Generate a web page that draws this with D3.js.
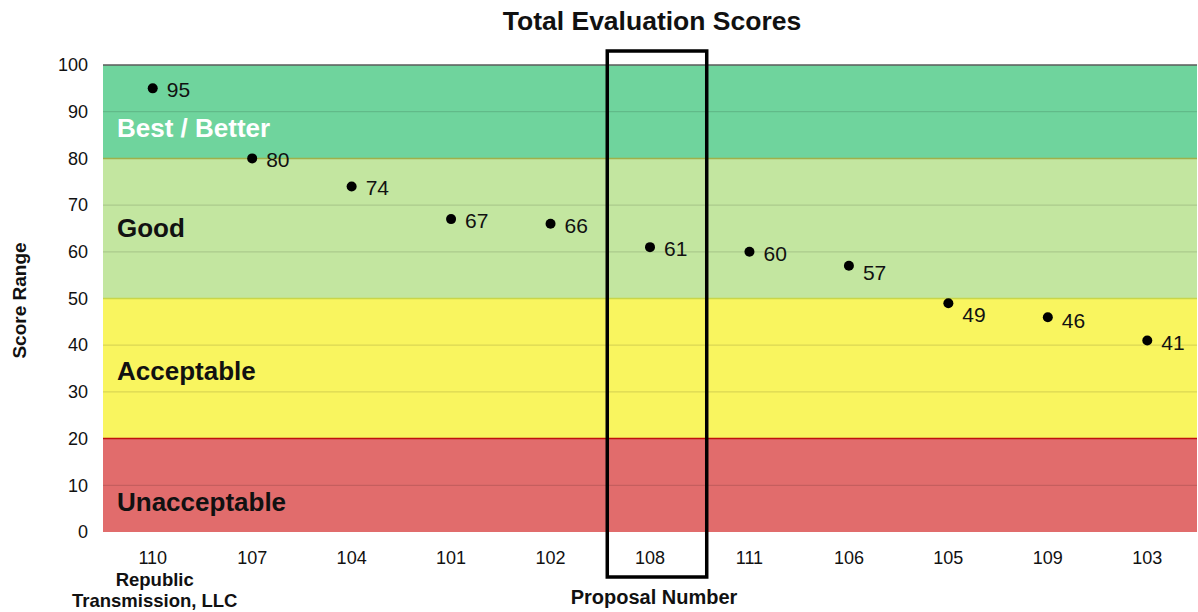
<!DOCTYPE html>
<html>
<head>
<meta charset="utf-8">
<script src="https://cdn.jsdelivr.net/npm/d3@7"></script>
<style>
  html, body { margin: 0; padding: 0; background: #fff; }
  svg { display: block; font-family: "Liberation Sans", Arial, sans-serif; }
</style>
</head>
<body>
<svg id="chart" width="1198" height="612"></svg>
<script>
// Proposal numbers in ranking order and their total scores
const proposals = ["110", "107", "104", "101", "102", "108", "111", "106", "105", "109", "103"];
const scores = [95, 80, 74, 67, 66, 61, 60, 57, 49, 46, 41];

// Score bands
const bandNames = ["Best / Better", "Good", "Acceptable", "Unacceptable"];
const bandLows = [80, 50, 20, 0];
const bandHighs = [100, 80, 50, 20];

const yTicks = [0, 10, 20, 30, 40, 50, 60, 70, 80, 90, 100];
const highlighted = "108";

const bandFill = ["#6fd49d", "#c3e6a0", "#f9f55f", "#e16c6c"];
const bandEdge = ["#5a5a5a", "#9fb04a", "#c8d64a", "#c0100e"];
const bandText = ["#ffffff", "#111111", "#111111", "#111111"];
// score level on which each band's label sits
const bandLabelAt = [86.5, 65, 34.5, 6.5];

const svg = d3.select("#chart");
const margin = { left: 103, right: 1, top: 65, bottom: 80 };
const W = 1198, H = 612;

const x = d3.scaleBand().domain(proposals).range([margin.left, W - margin.right]).padding(0);
const y = d3.scaleLinear().domain([0, 100]).range([H - margin.bottom, margin.top]);

// bands
const bands = bandNames.map((n, i) => ({ name: n, lo: bandLows[i], hi: bandHighs[i], i }));
svg.append("g").selectAll("rect").data(bands).join("rect")
  .attr("x", margin.left)
  .attr("width", W - margin.right - margin.left)
  .attr("y", d => y(d.hi))
  .attr("height", d => y(d.lo) - y(d.hi))
  .attr("fill", d => bandFill[d.i]);

// gridlines
svg.append("g").selectAll("line").data(yTicks.filter(t => t > 0 && t < 100 && !bandLows.includes(t))).join("line")
  .attr("x1", margin.left).attr("x2", W - margin.right)
  .attr("y1", d => y(d)).attr("y2", d => y(d))
  .attr("stroke", "#000").attr("stroke-opacity", 0.12).attr("stroke-width", 1.2);

// band edges
svg.append("g").selectAll("line").data(bands).join("line")
  .attr("x1", margin.left).attr("x2", W - margin.right)
  .attr("y1", d => y(d.hi)).attr("y2", d => y(d.hi))
  .attr("stroke", d => bandEdge[d.i]).attr("stroke-width", 1.5);

// band labels
svg.append("g").selectAll("text").data(bands).join("text")
  .attr("x", margin.left + 14)
  .attr("y", d => y(bandLabelAt[d.i]) + 9)
  .attr("fill", d => bandText[d.i])
  .attr("font-size", 26).attr("font-weight", "bold")
  .text(d => d.name);

// y axis
const yAxis = svg.append("g").attr("transform", `translate(${margin.left - 12},0)`)
  .call(d3.axisLeft(y).tickValues(yTicks).tickSize(0).tickPadding(3));
yAxis.select(".domain").remove();
yAxis.selectAll("text").attr("font-size", 18).attr("fill", "#111")
  .attr("font-family", "Liberation Sans, Arial, sans-serif");

// x axis
const xAxis = svg.append("g").attr("transform", `translate(0,${H - margin.bottom})`)
  .call(d3.axisBottom(x).tickSize(0).tickPadding(19));
xAxis.select(".domain").remove();
xAxis.selectAll("text").attr("font-size", 18).attr("fill", "#111")
  .attr("font-family", "Liberation Sans, Arial, sans-serif");

// points
const pts = proposals.map((p, i) => ({ p, v: scores[i] }));
svg.append("g").selectAll("circle").data(pts).join("circle")
  .attr("cx", d => x(d.p) + x.bandwidth() / 2)
  .attr("cy", d => y(d.v))
  .attr("r", 5).attr("fill", "#000");

// point value labels (nudged down where a gridline or band edge sits nearby)
const nudge = { "57": 7, "49": 12, "46": 4 };
svg.append("g").selectAll("text").data(pts).join("text")
  .attr("x", d => x(d.p) + x.bandwidth() / 2 + 14)
  .attr("y", d => y(d.v) + 7 + (nudge[d.v] || 2))
  .attr("font-size", 21).attr("fill", "#111")
  .text(d => d.v);

// highlighted proposal frame
svg.append("rect")
  .attr("x", x(highlighted) + 7)
  .attr("width", x.bandwidth())
  .attr("y", margin.top - 14)
  .attr("height", H - margin.bottom - margin.top + 59)
  .attr("fill", "none").attr("stroke", "#000").attr("stroke-width", 3.5);

// title and axis titles
svg.append("text").attr("x", 652).attr("y", 30).attr("text-anchor", "middle")
  .attr("font-size", 26.5).attr("font-weight", "bold").attr("fill", "#111")
  .text("Total Evaluation Scores");

svg.append("text").attr("transform", `translate(26,${y(50) + 2}) rotate(-90)`)
  .attr("text-anchor", "middle").attr("font-size", 19).attr("font-weight", "bold").attr("fill", "#111")
  .text("Score Range");

svg.append("text").attr("x", 654).attr("y", 604).attr("text-anchor", "middle")
  .attr("font-size", 20).attr("font-weight", "bold").attr("fill", "#111")
  .text("Proposal Number");

const sub = svg.append("text").attr("text-anchor", "middle")
  .attr("font-size", 18.5).attr("font-weight", "bold").attr("fill", "#111");
sub.append("tspan").attr("x", x("110") + x.bandwidth() / 2 + 2).attr("y", 586).text("Republic");
sub.append("tspan").attr("x", x("110") + x.bandwidth() / 2 + 2).attr("y", 607).text("Transmission, LLC");
</script>
</body>
</html>
